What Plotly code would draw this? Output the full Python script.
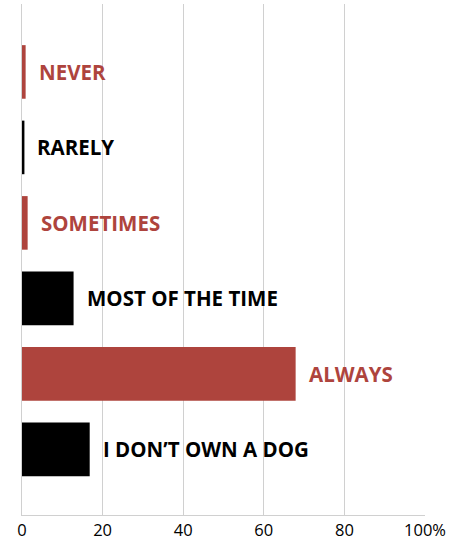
import plotly.graph_objects as go

categories = ["NEVER", "RARELY", "SOMETIMES", "MOST OF THE TIME", "ALWAYS", "I DON\u2019T OWN A DOG"]
values = [0.9, 0.6, 1.4, 12.8, 67.9, 16.8]
bar_colors = ["#AE443D", "#000000", "#AE443D", "#000000", "#AE443D", "#000000"]
tick_values = [0, 20, 40, 60, 80, 100]
tick_labels = ["0", "20", "40", "60", "80", "100%"]

positions = list(range(len(categories)))

fig = go.Figure()
fig.add_trace(go.Bar(
    x=values, y=positions, orientation="h",
    marker=dict(color=bar_colors, line=dict(width=0)),
    width=0.71, hoverinfo="skip", showlegend=False,
))

for v, p, c, col in zip(values, positions, categories, bar_colors):
    fig.add_annotation(
        x=v, y=p, text=c, showarrow=False, xanchor="left", yanchor="middle",
        xshift=11, font=dict(family="Open Sans", size=20.5, color=col, weight="bold"),
    )

fig.update_layout(
    width=465, height=544,
    margin=dict(l=22, r=40, t=4, b=29, autoexpand=False),
    paper_bgcolor="white", plot_bgcolor="white",
    xaxis=dict(
        range=[0, 100], tickvals=tick_values, ticktext=tick_labels,
        showgrid=True, gridcolor="#D0D0D0", gridwidth=1,
        zeroline=False, showline=True, linecolor="#D0D0D0", linewidth=1,
        mirror=False, ticks="", ticklabelstandoff=0,
        tickfont=dict(family="Open Sans", size=16.5, color="#000000"),
        automargin=False, fixedrange=True,
    ),
    yaxis=dict(
        range=[5.87, -0.9], showticklabels=False, showgrid=False, zeroline=False,
        showline=True, linecolor="#D0D0D0", linewidth=1, ticks="",
        automargin=False, fixedrange=True,
    ),
)

fig.write_html("out.html", config={"displayModeBar": False},
               post_script="document.body.style.margin='0';")
